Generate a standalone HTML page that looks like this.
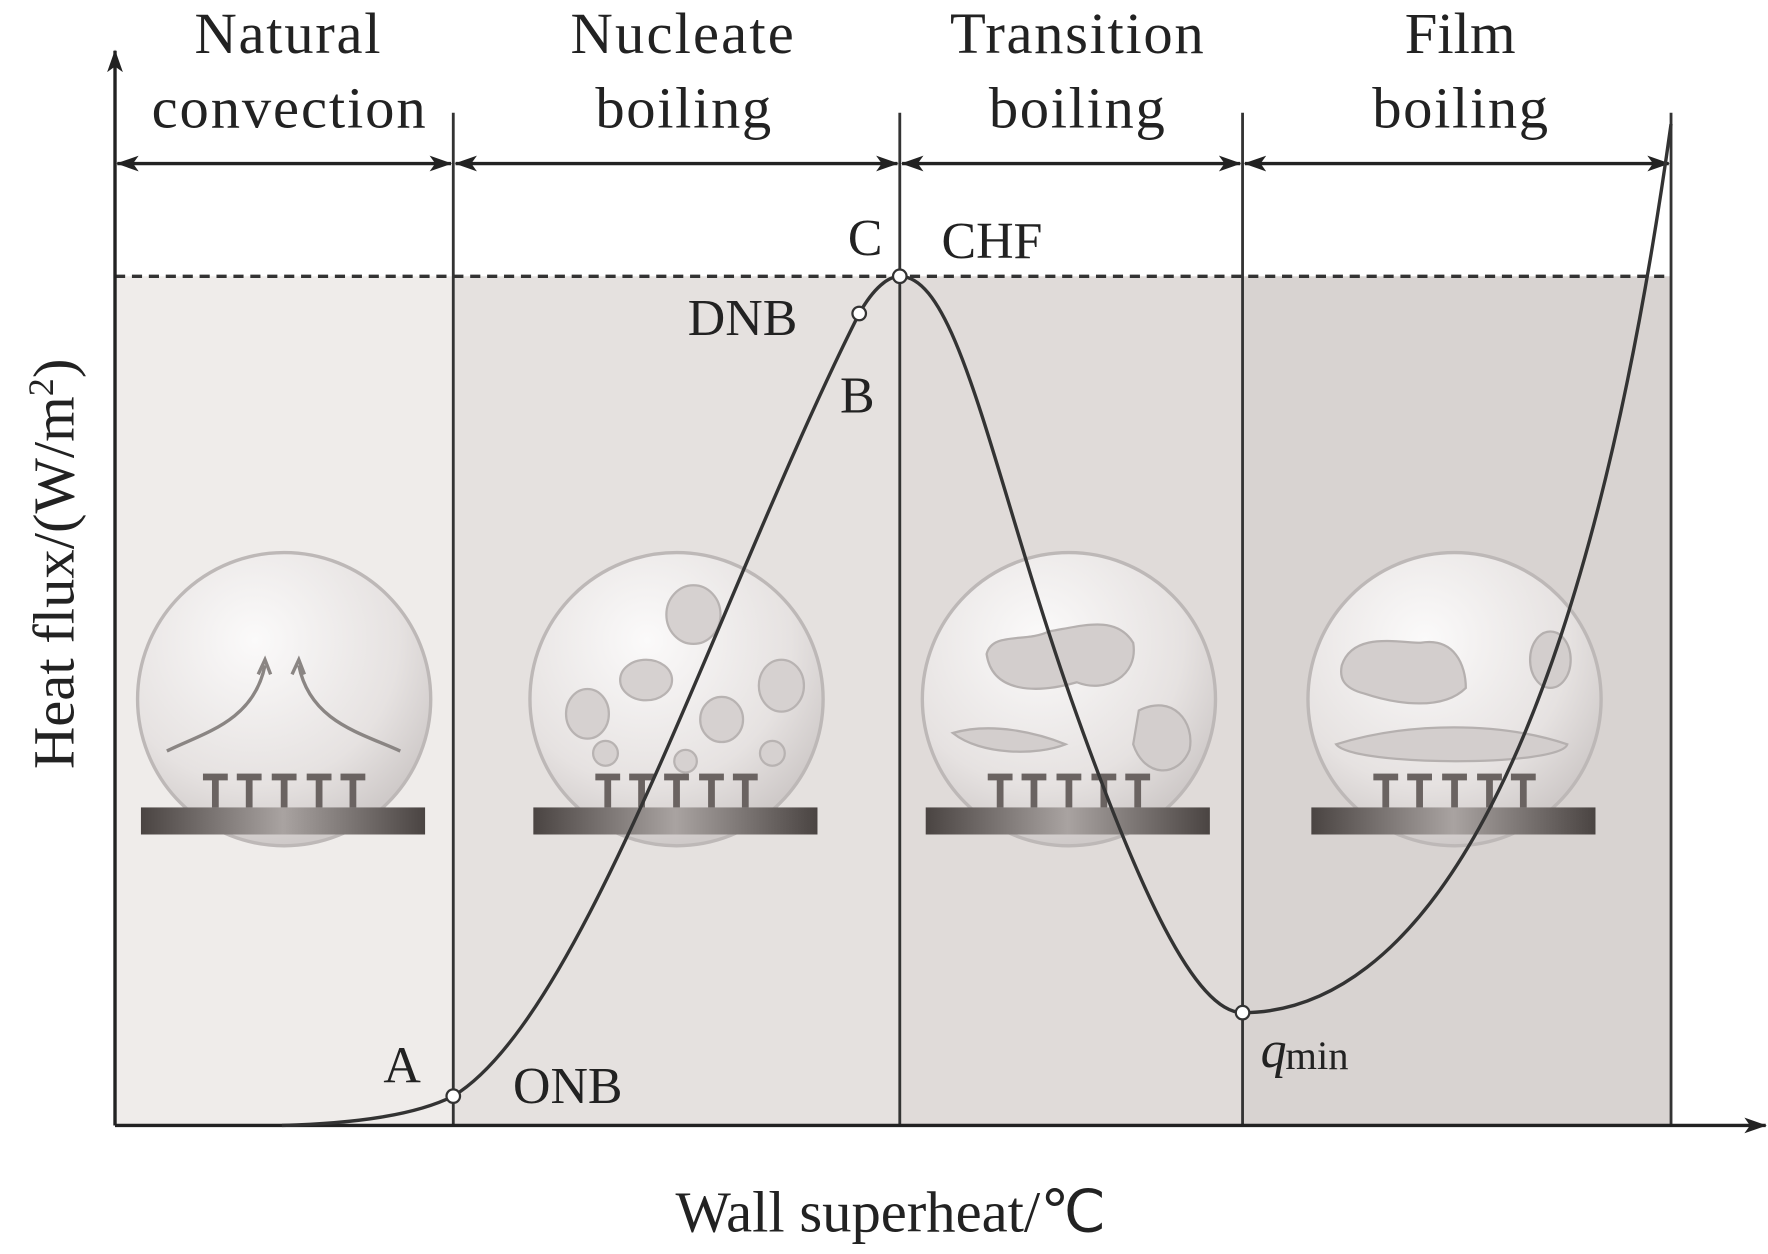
<!DOCTYPE html>
<html><head><meta charset="utf-8"><style>
html,body{margin:0;padding:0;background:#fff;}
svg{display:block;}
text{font-family:"Liberation Serif",serif;fill:#222;}
</style></head><body>
<svg width="1768" height="1254" viewBox="0 0 1568 1112" preserveAspectRatio="none" xmlns="http://www.w3.org/2000/svg">
<defs>
<marker id="ar" markerWidth="20" markerHeight="14" refX="19" refY="7" orient="auto-start-reverse" markerUnits="userSpaceOnUse">
<path d="M0,0 L20,7 L0,14 L5,7 Z" fill="#222"/></marker>
<radialGradient id="bulb" cx="0.4" cy="0.3" r="0.7"><stop offset="0" stop-color="#fbfafa"/><stop offset="0.7" stop-color="#e6e2e1"/><stop offset="1" stop-color="#cfcac9"/></radialGradient>
<linearGradient id="plate" x1="0" x2="1"><stop offset="0" stop-color="#4a4442"/><stop offset="0.5" stop-color="#a9a3a1"/><stop offset="1" stop-color="#4a4442"/></linearGradient>
<g id="bb">
<circle cx="0" cy="0" r="130" fill="url(#bulb)" stroke="#bdb8b7" stroke-width="3"/>
<g fill="#6a6361"><rect x="-72" y="66" width="22" height="6"/><rect x="-64" y="70" width="6" height="26"/>
<rect x="-42" y="66" width="22" height="6"/><rect x="-34" y="70" width="6" height="26"/>
<rect x="-11" y="66" width="22" height="6"/><rect x="-3" y="70" width="6" height="26"/>
<rect x="20" y="66" width="22" height="6"/><rect x="28" y="70" width="6" height="26"/>
<rect x="50" y="66" width="22" height="6"/><rect x="58" y="70" width="6" height="26"/></g>
<rect x="-127" y="96" width="252" height="24" fill="url(#plate)"/>
</g>
</defs>
<rect x="102" y="245" width="300" height="753" fill="#efecea"/>
<rect x="402" y="245" width="396" height="753" fill="#e5e1df"/>
<rect x="798" y="245" width="304" height="753" fill="#e0dbd9"/>
<rect x="1102" y="245" width="380" height="753" fill="#d8d3d1"/>
<use href="#bb" x="252" y="620"/>
<path d="M148,666 C180,650 225,640 235,590 M355,666 C320,650 275,640 265,590" fill="none" stroke="#8a8583" stroke-width="3"/>
<path d="M229,598 L235,585 L240,598 M259,598 L265,585 L270,598" fill="none" stroke="#8a8583" stroke-width="3"/>
<use href="#bb" x="600" y="620"/>
<g fill="#d6d1d0" stroke="#b8b3b2" stroke-width="2"><ellipse cx="615" cy="545" rx="24" ry="26"/><ellipse cx="573" cy="603" rx="23" ry="18"/><ellipse cx="521" cy="633" rx="19" ry="22"/><ellipse cx="693" cy="608" rx="20" ry="23"/><ellipse cx="640" cy="638" rx="19" ry="20"/><circle cx="537" cy="668" r="11"/><circle cx="608" cy="675" r="10"/><circle cx="685" cy="668" r="11"/></g>
<use href="#bb" x="948" y="620"/>
<g fill="#d3cecd" stroke="#b5b0af" stroke-width="2"><path d="M875,580 C880,560 910,570 930,560 C960,555 990,545 1005,570 C1010,600 980,615 955,605 C920,615 880,615 875,580Z"/><path d="M1010,630 C1040,615 1060,640 1055,665 C1045,690 1015,690 1005,660Z"/><path d="M845,650 C880,640 920,650 945,660 C920,670 870,670 845,650Z"/></g>
<use href="#bb" x="1290" y="620"/>
<g fill="#d3cecd" stroke="#b5b0af" stroke-width="2"><path d="M1190,590 C1200,560 1240,570 1260,570 C1290,565 1300,590 1300,610 C1280,630 1240,625 1210,615 C1190,610 1188,600 1190,590Z"/><path d="M1185,660 C1250,640 1330,640 1390,660 C1385,680 1200,680 1185,660Z"/><ellipse cx="1375" cy="585" rx="18" ry="25"/></g>
<line x1="102" y1="245" x2="1482" y2="245" stroke="#333" stroke-width="3" stroke-dasharray="9,6"/>
<g stroke="#333" stroke-width="2.5"><line x1="402" y1="100" x2="402" y2="998"/><line x1="798" y1="100" x2="798" y2="998"/><line x1="1102" y1="100" x2="1102" y2="998"/><line x1="1482" y1="100" x2="1482" y2="998"/></g>
<g stroke="#222" stroke-width="3" marker-start="url(#ar)" marker-end="url(#ar)"><line x1="104" y1="145" x2="400" y2="145"/><line x1="404" y1="145" x2="796" y2="145"/><line x1="800" y1="145" x2="1100" y2="145"/><line x1="1104" y1="145" x2="1480" y2="145"/></g>
<line x1="102" y1="998" x2="102" y2="45" stroke="#222" stroke-width="3" marker-end="url(#ar)"/>
<line x1="102" y1="998" x2="1566" y2="998" stroke="#222" stroke-width="3" marker-end="url(#ar)"/>
<path d="M250,998 C320,996 370,988 402,972 C520,900 640,520 762,278 C775,255 788,245 798,245 C850,245 880,420 950,620 C1010,790 1060,898 1102,898 C1250,898 1400,700 1482,110" fill="none" stroke="#333" stroke-width="3"/>
<g fill="#fff" stroke="#333" stroke-width="2"><circle cx="402" cy="972" r="6"/><circle cx="762" cy="278" r="6"/><circle cx="798" cy="245" r="6"/><circle cx="1102" cy="898" r="6"/></g>
<g font-size="52" text-anchor="middle">
<text x="255" y="47" textLength="165">Natural</text><text x="256" y="113" textLength="243">convection</text>
<text x="605" y="47" textLength="198">Nucleate</text><text x="606" y="113" textLength="156">boiling</text>
<text x="955" y="47" textLength="225">Transition</text><text x="955" y="113" textLength="156">boiling</text>
<text x="1295" y="47">Film</text><text x="1295" y="113" textLength="156">boiling</text>
</g>
<g font-size="46">
<text x="752" y="226">C</text><text x="835" y="229">CHF</text>
<text x="610" y="297">DNB</text><text x="745" y="366">B</text>
<text x="340" y="960">A</text><text x="455" y="978">ONB</text>
<text x="1118" y="946" font-style="italic">q</text><text x="1140" y="948" font-size="36">min</text>
</g>
<text x="790" y="1092" font-size="52" text-anchor="middle">Wall superheat/℃</text>
<text transform="translate(65,500) rotate(-90)" font-size="52" text-anchor="middle">Heat flux/(W/m<tspan font-size="32" dy="-18">2</tspan><tspan dy="18">)</tspan></text>
</svg>
</body></html>
